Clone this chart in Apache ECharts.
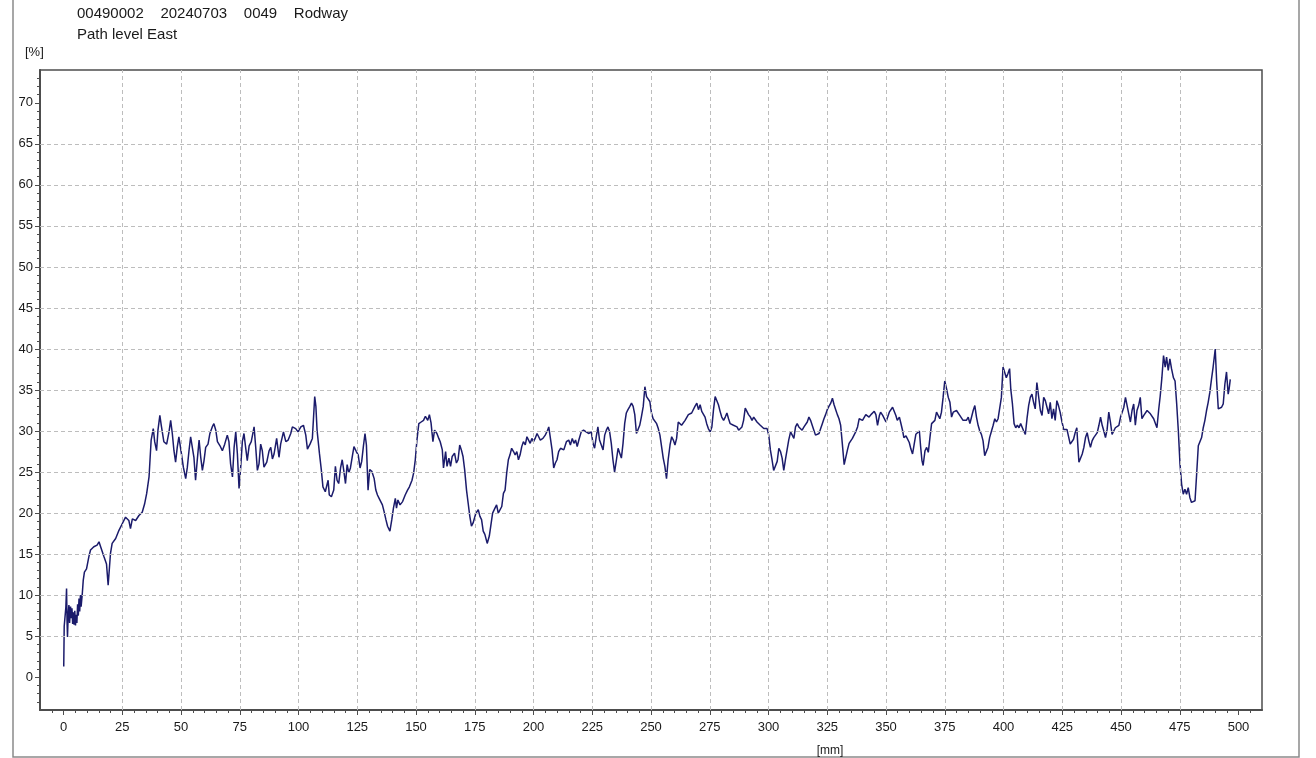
<!DOCTYPE html>
<html>
<head>
<meta charset="utf-8">
<title>Path level East</title>
<script src="https://cdn.jsdelivr.net/npm/echarts@6/dist/echarts.min.js"></script>
<style>
  html, body { margin: 0; padding: 0; background: #ffffff; }
  #chart { width: 1316px; height: 758px; }
</style>
</head>
<body>
<div id="chart"></div>
<script>
// Distance along the path [mm]
const positionMm = [
  0.1, 0.3, 0.7, 1.0, 1.3, 1.5, 1.7, 2.0, 2.3, 2.6, 3.0, 3.3, 3.6, 3.9, 4.2, 4.5, 4.8, 5.1, 5.4, 5.7,
  6.0, 6.3, 6.6, 6.9, 7.2, 7.5, 8.0, 8.4, 8.9, 9.8, 10.8, 11.5, 12.9,
  14.3, 15.1, 15.8, 17.2, 18.3, 19.0, 19.6, 20.0, 20.7, 22.2, 23.6, 25.0, 26.4, 27.8, 28.5, 29.3, 30.7, 32.1, 33.5, 34.5,
  35.4, 36.4, 36.8, 37.3, 38.2, 38.8, 39.6, 40.2, 41.0, 41.6, 42.7, 43.9, 44.9, 45.6, 46.3, 47.0, 47.7, 48.4, 49.1, 50.1,
  51.0, 52.0, 52.7, 53.4, 54.1, 54.8, 55.5, 56.2, 56.9, 57.7, 58.4, 59.1, 59.8, 60.5, 61.5, 62.3, 63.3, 64.0, 64.8, 65.5,
  66.6, 67.6, 68.6, 69.7, 70.4, 71.1, 71.9, 72.6, 73.3, 74.0, 74.7, 75.4, 76.1, 76.8, 77.5, 78.2, 79.0, 79.9, 81.1, 81.8,
  82.5, 83.2, 83.9, 84.6, 85.3, 86.5, 87.5, 88.2, 88.9, 89.6, 90.7, 91.7, 92.4, 93.6, 94.6, 95.6, 96.7, 97.4, 98.8, 99.8,
  101.0, 102.1, 103.1, 103.8, 104.9, 105.9,
  106.9, 107.4, 107.9, 108.9, 109.7, 110.4, 111.4, 112.6, 113.1, 114.0, 115.0, 115.7, 116.4, 117.1, 117.9, 118.6, 119.3, 120.0,
  120.7, 121.4, 122.1, 122.9, 123.6, 124.6, 125.4, 126.2, 126.9, 127.6, 128.3, 128.9, 129.6, 130.3, 131.2, 132.2, 132.9, 133.6,
  134.3, 135.0, 135.7, 136.4, 137.2, 137.9, 138.9, 139.7, 140.4, 141.2, 141.7, 142.3, 143.2, 144.3, 145.4, 146.4, 147.2, 148.3,
  149.0, 149.7, 150.4, 151.2, 152.2, 153.2, 154.0, 155.0, 155.7, 156.4, 157.2, 157.9, 158.9, 159.7, 160.3, 161.2, 161.7, 162.6,
  163.2, 164.0, 164.7, 165.4, 166.4, 167.2, 167.9, 168.6, 169.3, 170.0, 170.7, 171.5, 172.2, 172.9, 173.6, 174.3, 175.5, 176.5,
  177.2, 177.9, 178.6, 179.3, 180.3, 181.2, 181.9, 182.6, 183.6, 184.3, 185.0, 185.7, 186.5, 187.2, 187.9, 188.6, 189.3, 190.0,
  190.7, 191.5, 192.2, 192.9, 193.6, 194.3, 195.0, 195.7, 196.5, 197.2, 197.9, 198.6, 199.3, 200.0, 200.7, 201.5, 202.2, 202.9,
  204.0, 205.0, 206.0, 206.5, 207.2, 207.9, 208.6, 209.3, 210.0, 210.7, 211.5, 212.9, 214.0, 215.0, 215.7, 216.5, 217.2, 217.9,
  218.6, 219.3,
  220.3, 221.3, 222.4, 223.6, 224.6, 225.3, 226.0, 226.7, 227.4, 228.1, 228.8, 229.6, 230.3, 231.0, 231.7, 232.4, 233.1, 233.8,
  234.5, 235.3, 236.0, 236.7, 237.4, 238.1, 238.8, 239.5, 240.2, 241.0, 241.7, 242.4, 243.1, 243.8, 244.5, 245.2, 245.9, 246.7,
  247.4, 248.1, 248.8, 249.5, 250.2, 250.9, 251.6, 252.4, 253.1, 253.8, 254.5, 255.2, 255.9, 256.6, 257.3, 258.1, 258.8, 259.5,
  260.2, 260.9, 261.6, 262.3, 263.0, 263.8, 264.5, 265.2, 265.9, 266.6, 267.3, 268.0, 268.7, 269.5, 270.2, 270.9, 271.6, 272.3,
  273.0, 273.7, 274.4, 275.2, 275.9, 276.6, 277.3, 278.0, 278.7, 279.4, 280.1, 280.9, 281.6, 282.3, 283.0, 283.7, 284.4, 285.1,
  285.8, 286.6, 287.3, 288.0, 288.7, 289.4, 290.1, 290.8, 291.5, 292.3, 293.0, 293.7, 294.4, 295.1, 295.8, 296.5, 297.2, 298.0,
  298.7, 299.4, 300.1, 300.8, 301.5, 302.2, 302.9, 303.7, 304.4, 305.1, 305.8, 306.5, 307.2, 307.9, 308.6, 309.4, 310.1, 310.8,
  311.5, 312.2, 312.9, 313.6, 314.3, 315.1, 315.8, 316.5, 317.2, 317.9, 318.6, 319.3, 320.0, 320.8, 321.5, 322.2, 322.9, 323.6,
  324.3, 325.0, 325.7, 326.5, 327.2, 327.9, 328.6, 329.3, 330.0, 330.7, 331.4, 332.2, 332.9, 333.6, 334.3, 335.0, 335.7, 336.4,
  337.1, 337.9, 338.6, 339.3, 340.0, 340.7, 341.4, 342.1, 342.8, 343.6, 344.3, 345.0, 345.7, 346.4,
  347.2, 347.7, 348.6, 349.2, 350.0, 350.6, 351.4, 352.0, 352.8, 353.4, 354.2, 354.8, 355.7, 356.2, 357.1, 357.6, 358.5, 359.2,
  359.9, 360.6, 361.3, 362.0, 362.7, 363.4, 364.2, 364.7, 365.3, 365.8, 366.6, 367.3, 368.0, 368.7, 369.4, 370.1, 370.8, 371.5,
  372.2, 372.9, 373.6, 374.3, 375.0, 375.8, 376.5, 377.2, 377.9, 378.6, 379.3, 380.0, 380.7, 381.4, 382.1, 382.8, 383.5, 384.2,
  385.0, 385.7, 386.4, 387.1, 387.8, 388.5, 389.2, 389.9, 390.6, 391.3, 392.0, 392.7, 393.4, 394.1, 394.9, 395.6, 396.3, 397.0,
  397.7, 398.4, 399.1, 399.8, 400.5, 401.2, 401.9, 402.6, 403.1, 403.8, 404.5, 405.2, 405.9, 406.6, 407.3, 408.0, 408.6, 409.3,
  410.0, 410.7, 411.4, 412.1, 412.8, 413.5, 414.2, 414.9, 415.7, 416.4, 417.1, 417.8, 418.5, 419.2, 419.9, 420.6, 421.3, 422.0,
  422.7, 423.4, 424.1, 424.9, 425.6, 426.3, 427.0, 427.7, 428.4, 429.1, 429.8, 430.5, 431.2, 431.6, 432.1, 432.8, 433.5, 434.2,
  434.9, 435.6, 436.3, 437.0, 437.7, 438.4, 439.1, 439.9, 440.6, 441.3, 442.0, 442.7, 443.4, 444.1, 444.8, 445.5, 446.2, 446.9,
  447.6, 448.3, 449.1, 449.8, 450.5, 451.2, 451.9, 452.6, 453.3, 454.0, 454.7, 455.4, 456.1, 456.8, 457.5, 458.2, 458.9, 459.7,
  460.4, 461.1, 461.8, 462.5, 463.2, 463.9, 464.6, 465.3, 466.0, 466.7, 467.4, 468.1, 468.8, 469.4, 470.1, 470.8, 471.5, 472.3,
  473.0, 473.7, 474.4, 475.1, 475.8, 476.5, 477.2, 477.9, 478.6, 479.3, 480.0, 480.7, 481.5, 482.2, 482.9, 483.6, 484.3, 485.0,
  485.7, 486.4, 487.1, 487.8, 488.5, 489.2, 490.1, 490.7, 491.4, 492.1, 492.8, 493.5, 494.2, 494.9, 495.6, 496.0, 496.5
];

// Path level East [%]
const levelPct = [
  1.3, 6.2, 6.0, 8.5, 10.8, 7.0, 4.9, 7.6, 8.8, 6.6, 8.6, 7.2, 8.4, 6.5, 7.9, 6.4, 8.1, 6.3, 7.6, 6.6,
  8.9, 7.5, 9.6, 8.0, 10.0, 8.6, 10.2, 11.8, 12.8, 13.2, 14.7, 15.5, 15.9,
  16.1, 16.5, 15.9, 14.7, 13.8, 11.2, 11.0, 15.1, 16.3, 16.9, 17.9, 18.7, 19.5, 19.1, 18.1, 19.3, 19.1, 19.7, 20.1, 21.1,
  22.4, 24.4, 26.4, 28.9, 30.3, 28.7, 27.6, 30.1, 31.9, 30.7, 28.7, 28.4, 29.9, 31.3, 29.7, 27.6, 26.2, 28.0, 29.3, 27.4,
  25.6, 24.2, 25.6, 27.6, 29.3, 29.1, 26.8, 24.0, 26.4, 28.9, 26.8, 25.2, 26.4, 28.0, 28.4, 29.7, 30.5, 30.9, 30.1, 28.7,
  28.2, 27.6, 28.4, 29.5, 28.7, 26.0, 24.4, 28.0, 29.9, 27.2, 23.0, 25.6, 28.7, 29.7, 28.0, 26.4, 28.2, 28.7, 30.5, 28.0,
  25.2, 26.0, 28.4, 27.6, 25.6, 26.2, 27.6, 28.0, 26.6, 27.2, 29.1, 26.8, 28.4, 29.9, 28.7, 28.9, 29.7, 30.5, 30.3, 29.9,
  30.5, 30.7, 29.5, 27.8, 28.4, 29.1,
  34.2, 33.0, 30.1, 27.3, 25.3, 23.2, 22.6, 24.0, 22.2, 22.0, 22.8, 25.7, 24.0, 23.6, 25.5, 26.5, 25.1, 23.6,
  25.9, 24.9, 25.5, 26.9, 28.1, 27.5, 27.1, 25.5, 26.3, 28.1, 29.7, 28.3, 22.8, 25.3, 25.1, 24.2, 22.8, 22.2,
  21.8, 21.6, 21.0, 20.2, 19.2, 18.4, 17.8, 19.2, 20.6, 21.8, 20.6, 21.6, 21.0, 21.4, 22.2, 22.8, 23.2, 24.0,
  24.9, 26.5, 28.9, 30.9, 31.1, 31.3, 31.8, 31.3, 32.0, 31.0, 28.7, 30.1, 29.7, 29.1, 28.7, 27.7, 25.5, 27.5,
  25.7, 26.7, 25.7, 26.9, 27.3, 26.1, 26.5, 28.3, 27.7, 26.9, 25.3, 22.8, 21.2, 19.6, 18.4, 18.8, 20.0, 20.4,
  19.6, 19.2, 17.8, 17.4, 16.3, 17.2, 18.6, 20.0, 20.6, 21.0, 20.0, 20.2, 20.8, 22.4, 22.8, 24.9, 26.5, 27.1,
  27.9, 27.5, 27.1, 27.5, 26.5, 27.1, 28.1, 28.7, 28.3, 29.3, 28.9, 28.5, 29.1, 28.7, 29.1, 29.7, 29.3, 28.9,
  29.1, 29.5, 30.1, 30.5, 29.1, 27.7, 25.5, 26.1, 26.5, 27.5, 27.9, 27.7, 28.7, 28.9, 28.3, 29.1, 28.5, 28.9,
  28.1, 28.9,
  29.9, 30.1, 29.9, 29.7, 29.9, 28.5, 27.9, 29.3, 30.5, 28.9, 28.7, 27.7, 29.5, 30.1, 30.5, 29.9, 28.5, 26.5,
  25.0, 26.5, 27.9, 27.3, 26.7, 28.5, 30.9, 32.2, 32.6, 33.0, 33.4, 33.0, 32.0, 29.7, 29.5, 30.7, 31.7, 33.0,
  35.4, 34.2, 34.0, 33.6, 32.2, 31.5, 31.3, 30.9, 30.3, 29.5, 28.1, 26.7, 25.7, 24.2, 26.5, 28.3, 29.3, 28.9,
  28.3, 29.1, 31.1, 31.3, 30.7, 30.9, 31.3, 31.5, 32.0, 32.0, 32.2, 32.4, 33.0, 33.4, 32.6, 33.2, 32.4, 32.2,
  31.7, 30.9, 30.3, 29.9, 30.5, 32.6, 34.2, 34.0, 33.2, 32.4, 31.7, 31.3, 31.7, 32.2, 31.5, 30.9, 31.1, 30.7,
  30.9, 30.5, 30.1, 29.9, 30.5, 31.3, 32.8, 32.4, 32.0, 31.7, 31.3, 31.7, 31.5, 31.1, 30.9, 30.7, 30.5, 30.3,
  30.1, 30.3, 29.5, 27.7, 26.5, 25.2, 25.0, 26.3, 27.9, 27.5, 26.7, 25.2, 26.5, 27.7, 28.9, 29.9, 29.5, 29.1,
  30.5, 30.9, 30.5, 30.7, 30.1, 30.5, 30.3, 31.1, 31.7, 31.3, 30.7, 30.1, 29.5, 29.3, 29.7, 30.3, 30.9, 31.5,
  32.0, 32.6, 33.0, 33.4, 34.0, 33.2, 32.6, 32.0, 31.5, 30.7, 28.5, 25.9, 26.1, 27.7, 28.5, 28.7, 29.1, 29.3,
  29.9, 30.5, 31.5, 31.7, 31.3, 31.5, 32.0, 32.2, 31.7, 32.0, 32.2, 32.4, 32.0, 30.7,
  31.9, 32.3, 31.9, 31.7, 31.1, 31.3, 32.3, 32.5, 32.9, 33.1, 31.9, 31.3, 31.7, 31.1, 30.0, 29.2, 29.4, 29.2,
  28.6, 27.8, 27.2, 28.4, 29.6, 29.8, 30.0, 28.2, 26.4, 25.8, 27.6, 28.0, 27.4, 29.2, 30.9, 31.1, 31.3, 32.3,
  32.5, 31.5, 32.3, 34.1, 36.1, 35.1, 34.1, 33.5, 31.7, 32.3, 32.1, 32.5, 32.7, 31.9, 31.7, 31.3, 31.1, 31.3,
  31.7, 30.9, 31.1, 32.5, 33.1, 31.7, 30.7, 30.0, 29.6, 28.8, 27.0, 26.8, 28.0, 29.2, 30.0, 30.7, 31.5, 31.1,
  31.5, 31.5, 34.1, 37.8, 38.0, 36.5, 37.0, 37.6, 35.1, 33.3, 30.9, 30.4, 30.7, 30.4, 30.9, 31.1, 30.0, 29.6,
  31.5, 33.1, 34.1, 34.5, 33.5, 32.7, 35.9, 34.3, 32.5, 31.9, 34.1, 33.7, 32.9, 32.1, 33.5, 31.5, 32.7, 31.3,
  33.7, 33.1, 32.3, 31.1, 30.2, 30.0, 30.2, 30.0, 28.4, 28.6, 29.0, 29.8, 30.4, 28.4, 26.2, 26.4, 27.2, 28.0,
  29.2, 29.8, 28.8, 28.0, 28.8, 29.2, 29.4, 29.8, 30.7, 31.7, 30.7, 30.0, 29.2, 30.2, 32.3, 31.1, 29.6, 29.8,
  30.4, 30.2, 30.7, 31.7, 32.3, 32.9, 34.1, 33.1, 32.1, 31.1, 32.5, 33.3, 30.7, 32.5, 33.1, 34.1, 31.5, 31.9,
  31.7, 32.5, 32.7, 32.1, 32.3, 31.5, 31.3, 30.4, 32.5, 34.3, 36.5, 39.2, 37.8, 39.0, 37.4, 38.8, 37.6, 36.5,
  36.1, 33.3, 30.0, 26.0, 23.5, 22.3, 22.9, 22.3, 23.1, 21.9, 21.3, 21.1, 21.5, 24.8, 28.2, 28.4, 29.2, 30.4,
  31.3, 32.5, 33.5, 34.7, 36.3, 37.8, 40.0, 36.1, 32.7, 32.5, 32.9, 33.3, 35.7, 37.2, 34.5, 35.1, 36.3
];

// Axis ticks
const xTickValues = [0, 25, 50, 75, 100, 125, 150, 175, 200, 225, 250, 275, 300, 325, 350, 375, 400, 425, 450, 475, 500];
const yTickValues = [0, 5, 10, 15, 20, 25, 30, 35, 40, 45, 50, 55, 60, 65, 70];

// Header lines
const headerLine1 = '00490002    20240703    0049    Rodway';
const headerLine2 = 'Path level East';
const yUnit = '[%]';
const xUnit = '[mm]';

const X_MIN = -10, X_MAX = 510;
const Y_MIN = -4, Y_MAX = 74;

// Minor ticks: every 5 mm on x, every 1 % on y
const xMinorTicks = [];
for (let v = -5; v <= 505; v += 5) if (v % 25 !== 0) xMinorTicks.push(v);
const yMinorTicks = [];
for (let v = -3; v <= 73; v += 1) if (v % 5 !== 0) yMinorTicks.push(v);

const points = positionMm.map((x, i) => [x, levelPct[i]]);

const FONT = '"Liberation Sans", Arial, sans-serif';
const AXIS_COLOR = '#4d4d4d';
const GRID_LINE = { color: '#bdbdbd', width: 1, type: [4, 3] };

const chart = echarts.init(document.getElementById('chart'), null, { renderer: 'canvas' });

chart.setOption({
  animation: false,
  backgroundColor: '#ffffff',
  textStyle: { fontFamily: FONT },
  grid: {
    left: 40, top: 70, right: 54, bottom: 48,
    show: true, borderColor: AXIS_COLOR, borderWidth: 1.5, backgroundColor: '#ffffff'
  },
  xAxis: [
    {
      type: 'value', min: X_MIN, max: X_MAX, position: 'bottom',
      axisLine: { show: true, onZero: false, lineStyle: { color: AXIS_COLOR, width: 2 } },
      axisTick: { show: true, customValues: xTickValues, length: 5, lineStyle: { color: AXIS_COLOR } },
      axisLabel: { show: true, customValues: xTickValues, margin: 11, color: '#1a1a1a', fontSize: 13, fontFamily: FONT },
      splitLine: { show: false }
    },
    {
      type: 'value', min: X_MIN, max: X_MAX, position: 'bottom',
      axisLine: { show: false, onZero: false },
      axisTick: { show: true, customValues: xMinorTicks, length: 3, lineStyle: { color: AXIS_COLOR } },
      axisLabel: { show: false },
      splitLine: { show: false }
    }
  ],
  yAxis: [
    {
      type: 'value', min: Y_MIN, max: Y_MAX, position: 'left',
      axisLine: { show: true, onZero: false, lineStyle: { color: AXIS_COLOR, width: 2 } },
      axisTick: { show: true, customValues: yTickValues, length: 5, lineStyle: { color: AXIS_COLOR } },
      axisLabel: { show: true, customValues: yTickValues, margin: 7, color: '#1a1a1a', fontSize: 13, fontFamily: FONT },
      splitLine: { show: false }
    },
    {
      type: 'value', min: Y_MIN, max: Y_MAX, position: 'left',
      axisLine: { show: false, onZero: false },
      axisTick: { show: true, customValues: yMinorTicks, length: 3, lineStyle: { color: AXIS_COLOR } },
      axisLabel: { show: false },
      splitLine: { show: false }
    }
  ],
  series: [
    {
      // dashed grid at the inner major ticks
      type: 'line', xAxisIndex: 0, yAxisIndex: 0, z: 1,
      data: [],
      silent: true,
      markLine: {
        silent: true, symbol: 'none', label: { show: false },
        lineStyle: GRID_LINE,
        emphasis: { disabled: true },
        data: [
          ...xTickValues.filter(v => v > 0 && v < 500).map(v => ({ xAxis: v })),
          ...yTickValues.filter(v => v > 0 && v < 70).map(v => ({ yAxis: v }))
        ]
      }
    },
    {
      name: 'Path level East', type: 'line', xAxisIndex: 0, yAxisIndex: 0, z: 3,
      data: points,
      showSymbol: false, symbol: 'none',
      lineStyle: { color: '#1b1b6b', width: 1.5 },
      emphasis: { disabled: true }
    }
  ],
  graphic: [
    {
      type: 'rect', silent: true, z: -1,
      shape: { x: 13, y: -4, width: 1286, height: 761 },
      style: { fill: null, stroke: '#8a8a8a', lineWidth: 1.5 }
    },
    { type: 'text', left: 77, top: 6, silent: true,
      style: { text: headerLine1, fill: '#1a1a1a', font: '15px ' + FONT } },
    { type: 'text', left: 77, top: 27, silent: true,
      style: { text: headerLine2, fill: '#1a1a1a', font: '15px ' + FONT } },
    { type: 'text', left: 25, top: 46, silent: true,
      style: { text: yUnit, fill: '#1a1a1a', font: '13px ' + FONT } },
    { type: 'text', x: 830, y: 751, silent: true,
      style: { text: xUnit, fill: '#1a1a1a', font: '12px ' + FONT, align: 'center', verticalAlign: 'middle' } }
  ]
});
</script>
</body>
</html>
